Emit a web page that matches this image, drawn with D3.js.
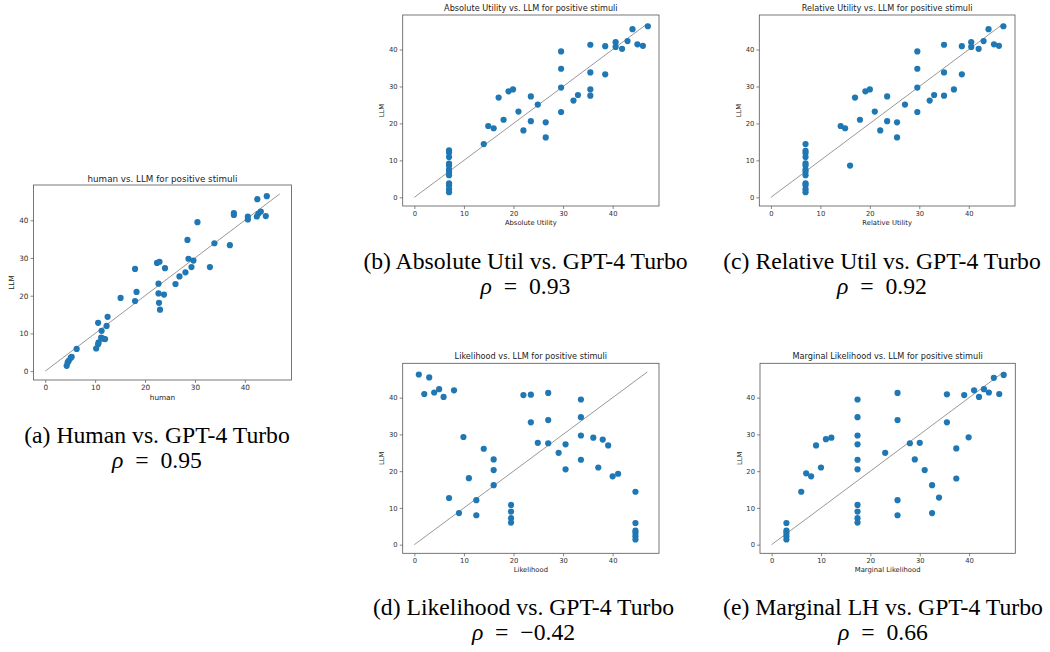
<!DOCTYPE html>
<html>
<head>
<meta charset="utf-8">
<script src="https://cdn.jsdelivr.net/npm/d3@7"></script>
<style>
  body { margin: 0; background: #fff; }
  svg { display: block; }
</style>
</head>
<body>
<svg id="fig" width="1050" height="652"></svg>
<script>
// values: [x, LLM]
const humanPts = [[44.4,46.4],[42.5,45.6],[37.8,41.9],[37.8,41.4],[40.6,41.0],[40.6,40.2],[43.2,42.3],[42.7,41.7],[42.4,41.0],[44.2,41.1],
  [30.5,39.5],[28.5,34.8],[33.9,33.9],[37.0,33.4],[28.7,29.8],[29.7,29.3],[22.4,28.7],[22.9,29.0],[24.0,27.3],[18.0,27.1],
  [29.3,27.6],[33.0,27.6],[28.1,26.2],[26.9,25.1],[22.7,23.2],[26.1,23.1],[18.3,21.0],[22.7,20.6],[23.8,20.3],[15.1,19.4],
  [18.0,18.6],[22.8,18.1],[23.0,16.3],[12.5,14.4],[10.6,12.8],[12.3,12.0],[11.3,10.7],[11.2,8.9],[11.6,8.6],[12.0,8.5],
  [10.7,7.6],[10.6,7.1],[10.2,6.0],[6.3,5.9],[5.3,3.8],[5.1,3.5],[4.7,2.7],[4.5,2.3],[4.3,1.4]];

const absUtilPts = [[47.1,46.3],[44.0,45.5],[43.0,42.3],[40.6,42.0],[35.5,41.3],[38.5,40.9],[45.0,41.4],[46.1,41.0],[40.6,40.7],[41.9,40.2],
  [29.6,39.5],[29.6,34.8],[35.5,33.8],[38.5,33.3],[29.6,29.7],[35.5,29.2],[19.9,29.2],[19.0,28.7],[17.0,27.0],[23.5,27.3],
  [35.5,27.5],[33.0,27.7],[32.1,26.2],[24.9,25.1],[21.0,23.2],[29.6,23.1],[18.0,21.0],[23.5,20.6],[26.5,20.3],[14.9,19.3],
  [16.0,18.7],[22.0,18.1],[26.5,16.2],[14.0,14.4],[7,12.7],[7,12.1],[7,10.9],[7,9.1],[7,8.6],[7,7.5],[7,6.9],[7,6.0],
  [7,3.8],[7,3.3],[7,2.2],[7,1.4]];

const relUtilPts = [[47.0,46.3],[44.0,45.5],[43.0,42.3],[40.5,42.0],[35.0,41.3],[38.6,40.9],[45.1,41.4],[46.1,41.0],[40.5,40.7],[42.0,40.2],
  [29.6,39.5],[29.6,34.8],[35.0,33.8],[38.6,33.3],[29.6,29.7],[37.0,29.2],[20.0,29.2],[19.1,28.7],[17.0,27.0],[23.5,27.3],
  [35.0,27.5],[33.0,27.7],[32.1,26.2],[27.1,25.1],[21.0,23.2],[29.6,23.1],[18.0,21.0],[23.5,20.6],[25.5,20.3],[14.1,19.3],
  [15.0,18.7],[22.1,18.1],[25.5,16.2],[16.0,8.6],[7,14.4],[7,12.6],[7,12.0],[7,10.9],[7,9.2],[7,8.6],[7,7.5],[7,6.9],
  [7,6.0],[7,3.8],[7,3.3],[7,2.2],[7,1.4]];

const likelihoodPts = [[0.9,46.3],[3.0,45.5],[5.0,42.3],[8.0,42.0],[4.0,41.4],[2.0,41.0],[5.9,40.2],[22.0,40.7],[23.5,40.8],[27.0,41.3],
  [33.6,39.5],[33.6,34.7],[27.0,33.9],[23.5,33.3],[33.6,29.7],[9.9,29.3],[36.1,29.1],[38.0,28.6],[39.1,27.0],[24.9,27.7],
  [27.0,27.6],[30.5,27.3],[14.0,26.1],[29.1,25.0],[16.0,23.2],[33.6,23.1],[16.0,20.3],[30.5,20.5],[37.1,21.0],[41.1,19.3],
  [40.0,18.6],[11.0,18.1],[16.0,16.2],[44.6,14.4],[7.0,12.7],[12.5,12.1],[9.0,8.6],[12.5,8.0],[19.5,10.8],[19.5,9.0],
  [19.5,7.2],[19.5,6.0],[44.6,5.9],[44.6,3.8],[44.6,3.2],[44.6,2.3],[44.6,1.4]];

const marginalPts = [[47.0,46.2],[45.0,45.4],[43.0,42.3],[41.0,42.0],[44.0,41.4],[46.1,41.0],[42.0,40.2],[35.5,40.9],[39.0,40.7],[25.5,41.3],
  [17.4,39.5],[17.4,34.7],[25.5,33.9],[35.5,33.3],[17.4,29.7],[39.9,29.2],[12.1,29.1],[11.0,28.7],[9.0,27.0],[17.4,27.3],
  [28.0,27.6],[30.0,27.7],[37.4,26.2],[23.0,25.0],[29.0,23.2],[17.4,23.1],[10.0,21.0],[17.4,20.5],[31.0,20.3],[7.0,19.4],
  [8.0,18.6],[37.4,18.0],[32.5,16.2],[6.0,14.4],[33.9,12.8],[25.5,12.1],[32.5,8.6],[25.5,8.0],[17.4,10.8],[17.4,9.0],
  [17.4,7.2],[17.4,6.0],[3,5.9],[3,3.8],[3,3.2],[3,2.3],[3,1.4]];

const tickVals = [0, 10, 20, 30, 40];
const diagLine = [[0, 0], [47, 47]];

const svg = d3.select("#fig");

function drawPanel(p) {
  const x = d3.scaleLinear().domain([-2.35, 49.35]).range([p.left, p.left + p.w]);
  const y = d3.scaleLinear().domain([-2.35, 49.35]).range([p.top + p.h, p.top]);
  const g = svg.append("g").attr("font-family", "DejaVu Sans");

  // diagonal reference
  g.append("path")
    .attr("d", d3.line().x(d => x(d[0])).y(d => y(d[1]))(diagLine))
    .attr("fill", "none")
    .attr("stroke", "#8c8c8c")
    .attr("stroke-width", 0.9);

  g.selectAll("circle.pt")
    .data(p.data)
    .enter()
    .append("circle")
    .attr("class", "pt")
    .attr("cx", d => x(d[0]))
    .attr("cy", d => y(d[1]))
    .attr("r", 3.1)
    .attr("fill", "#1f77b4");

  // axes
  const xAxis = d3.axisBottom(x).tickValues(tickVals).tickSize(3).tickPadding(2);
  const yAxis = d3.axisLeft(y).tickValues(tickVals).tickSize(3).tickPadding(2);
  const gx = g.append("g").attr("transform", `translate(0,${p.top + p.h})`).call(xAxis);
  const gy = g.append("g").attr("transform", `translate(${p.left},0)`).call(yAxis);
  [gx, gy].forEach(a => {
    a.select(".domain").remove();
    a.selectAll("text").attr("font-size", p.fs).attr("fill", "#333").attr("font-family", "DejaVu Sans");
    a.selectAll("line").attr("stroke", "#555").attr("stroke-width", 0.7);
  });

  // frame
  g.append("rect")
    .attr("x", p.left).attr("y", p.top)
    .attr("width", p.w).attr("height", p.h)
    .attr("fill", "none").attr("stroke", "#555").attr("stroke-width", 0.8);

  g.append("text")
    .attr("x", p.left + p.w / 2).attr("y", p.top - p.titleGap)
    .attr("text-anchor", "middle").attr("font-size", p.fs * 1.2).attr("fill", "#222")
    .text(p.title);

  g.append("text")
    .attr("x", p.left + p.w / 2).attr("y", p.top + p.h + p.fs * 2.6 + 1.5)
    .attr("text-anchor", "middle").attr("font-size", p.fs).attr("fill", "#222")
    .text(p.xlabel);

  g.append("text")
    .attr("transform", `translate(${p.left - p.fs * 2.7},${p.top + p.h / 2}) rotate(-90)`)
    .attr("text-anchor", "middle").attr("font-size", p.fs).attr("fill", "#222")
    .text("LLM");

  // caption
  const cap = svg.append("g").attr("font-family", "Liberation Serif").attr("font-size", 23.7).attr("fill", "#000");
  cap.append("text").attr("x", p.capX).attr("y", p.capY).attr("text-anchor", "middle").text(p.caption);
  const rho = cap.append("text").attr("x", p.capX).attr("y", p.capY + 25).attr("text-anchor", "middle");
  rho.append("tspan").attr("font-style", "italic").text("ρ");
  rho.append("tspan").text("\u2002=\u2002" + p.rho);
}

drawPanel({data: humanPts, left: 33.5, top: 185, w: 258, h: 195, fs: 7.3, titleGap: 3,
  title: "human vs. LLM for positive stimuli", xlabel: "human",
  caption: "(a) Human vs. GPT-4 Turbo", rho: "0.95", capX: 157, capY: 443});
drawPanel({data: absUtilPts, left: 402.7, top: 15, w: 256.3, h: 191, fs: 6.8, titleGap: 4,
  title: "Absolute Utility vs. LLM for positive stimuli", xlabel: "Absolute Utility",
  caption: "(b) Absolute Util vs. GPT-4 Turbo", rho: "0.93", capX: 525.5, capY: 268.5});
drawPanel({data: relUtilPts, left: 759.3, top: 15, w: 255.7, h: 191, fs: 6.8, titleGap: 4,
  title: "Relative Utility vs. LLM for positive stimuli", xlabel: "Relative Utility",
  caption: "(c) Relative Util vs. GPT-4 Turbo", rho: "0.92", capX: 882, capY: 268.5});
drawPanel({data: likelihoodPts, left: 402.7, top: 363.3, w: 256.3, h: 190, fs: 6.8, titleGap: 4,
  title: "Likelihood vs. LLM for positive stimuli", xlabel: "Likelihood",
  caption: "(d) Likelihood vs. GPT-4 Turbo", rho: "\u22120.42", capX: 523.5, capY: 615});
drawPanel({data: marginalPts, left: 760, top: 363.3, w: 255.3, h: 190, fs: 6.8, titleGap: 4,
  title: "Marginal Likelihood vs. LLM for positive stimuli", xlabel: "Marginal Likelihood",
  caption: "(e) Marginal LH vs. GPT-4 Turbo", rho: "0.66", capX: 883, capY: 615});
</script>
</body>
</html>
